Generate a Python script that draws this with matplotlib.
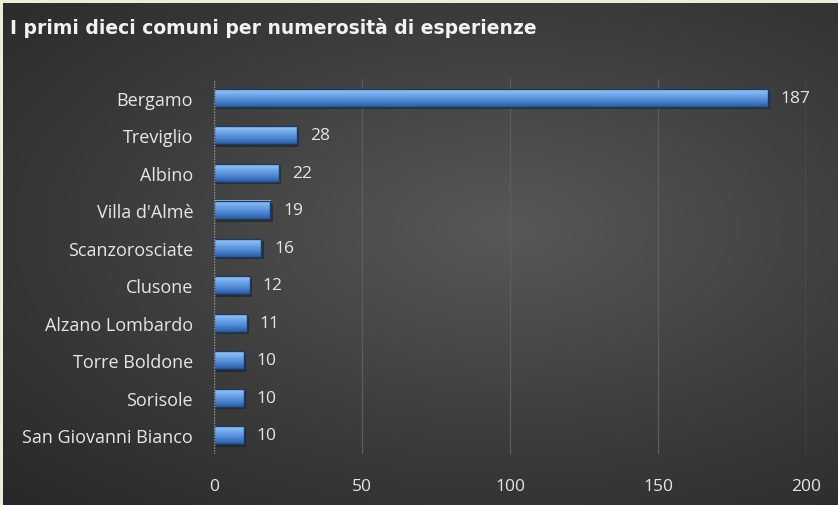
import numpy as np
import matplotlib.pyplot as plt
from matplotlib.colors import LinearSegmentedColormap

comuni = ['Bergamo', 'Treviglio', 'Albino', "Villa d'Almè", 'Scanzorosciate',
          'Clusone', 'Alzano Lombardo', 'Torre Boldone', 'Sorisole', 'San Giovanni Bianco']
esperienze = [187, 28, 22, 19, 16, 12, 11, 10, 10, 10]
xticks = [0, 50, 100, 150, 200]
titolo = 'I primi dieci comuni per numerosità di esperienze'

plt.rcParams['font.family'] = ['Open Sans', 'DejaVu Sans']
txt = '#e6e6e6'

fig = plt.figure(figsize=(8.38, 5.06), dpi=100)
fig.patch.set_facecolor('#e8eed8')

# dark panel with radial gradient
bg = fig.add_axes([3 / 838, 0, 1 - 3 / 838, 1 - 4 / 506])
yy, xx = np.mgrid[0:1:300j, 0:1:500j]
r = np.sqrt(((xx - 0.6) / 0.9) ** 2 + ((yy - 0.45) / 0.8) ** 2)
bgcmap = LinearSegmentedColormap.from_list('bg', ['#585858', '#3d3d3d', '#262626'])
bg.imshow(np.clip(r, 0, 1), cmap=bgcmap, aspect='auto', extent=(0, 1, 0, 1), vmin=0, vmax=1)
bg.set_axis_off()

fig.text(10 / 838, 1 - 28 / 506, titolo, color='#f2f2f2', fontsize=13.5,
         fontweight='bold', va='center', ha='left', family=['DejaVu Sans'])

ax = fig.add_axes([214 / 838, 1 - 455 / 506, 592 / 838, 375 / 506])
ax.patch.set_alpha(0)
ypos = np.arange(len(comuni))[::-1]
h = 0.48

barcmap = LinearSegmentedColormap.from_list('bar', ['#2c5c9e', '#4b86d2', '#6fa6e8', '#9cc6f4'])
grad = np.linspace(0, 1, 50).reshape(-1, 1)
for y, v in zip(ypos, esperienze):
    # shadow
    ax.barh(y - 0.06, v, height=h, left=0.8, color='#111111', alpha=0.45, zorder=2)
    ax.imshow(grad, cmap=barcmap, aspect='auto', origin='lower',
              extent=(0, v, y - h / 2, y + h / 2), zorder=3)
    ax.barh(y, v, height=h, color='none', edgecolor='#1d3a66', linewidth=1.0, zorder=4)
    ax.text(v + 4.5, y, str(v), color=txt, fontsize=12.5, va='center', ha='left', zorder=5)

ax.set_xlim(0, 200)
ax.set_ylim(-0.5, len(comuni) - 0.5)
ax.set_yticks(ypos)
ax.set_yticklabels(comuni, color=txt, fontsize=13)
ax.set_xticks(xticks)
ax.set_xticklabels([str(t) for t in xticks], color=txt, fontsize=12.5)
ax.tick_params(length=0, axis='y', pad=15)
ax.tick_params(length=0, axis='x', pad=17)
for s in ax.spines.values():
    s.set_visible(False)
for t in [50, 100, 150]:
    ax.axvline(t, color='#5e5e5e', linewidth=0.9, zorder=1)
for t in [0, 200]:
    ax.axvline(t, color='#9a9a9a', linewidth=1.0, linestyle=(0, (1, 1)), zorder=6)

fig.savefig('out.png', dpi=100)
